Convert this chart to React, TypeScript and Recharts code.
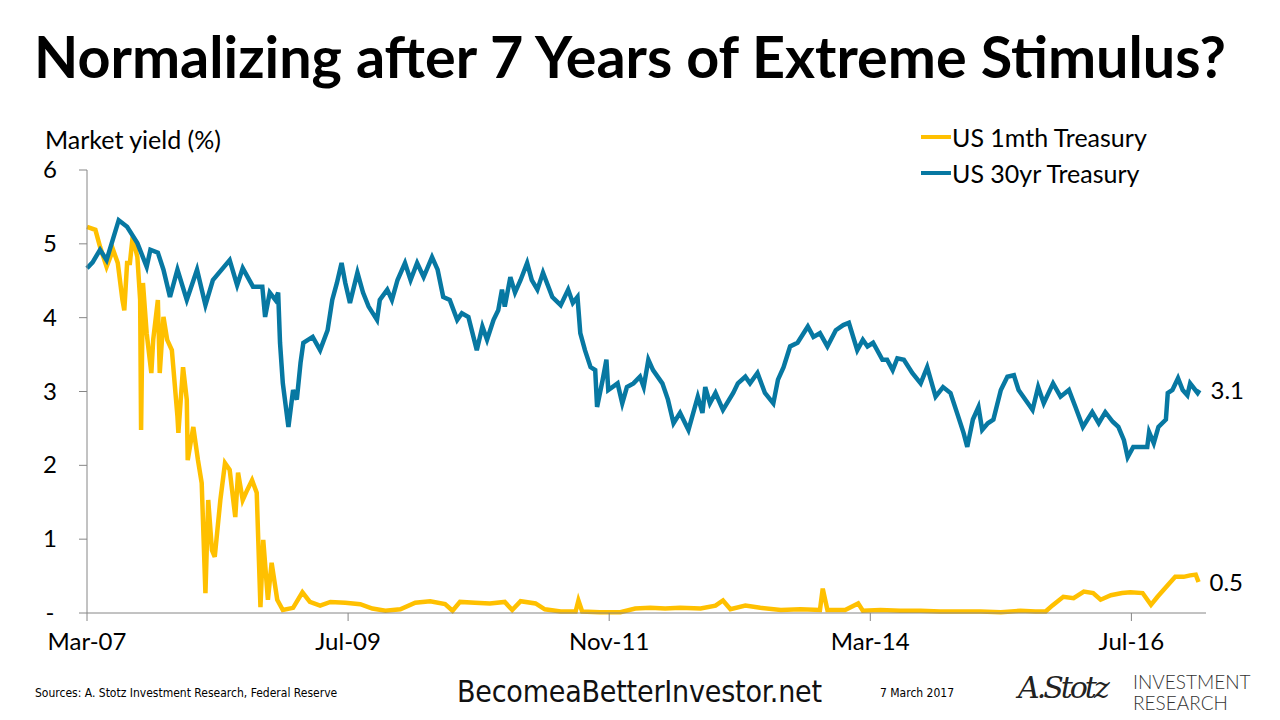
import React from "react"
import { LineChart, Line, XAxis, YAxis } from "recharts"

// months since Mar-2007, yield (%)
const treasury30yr: [number, number][] = [
    [0.0, 4.67], [0.6, 4.75], [1.4, 4.92], [2.1, 4.78], [3.4, 5.32], [4.3, 5.23], [5.4, 5.01], [6.4, 4.69],
    [6.8, 4.92], [7.6, 4.88], [8.2, 4.65], [8.9, 4.28], [9.7, 4.65], [10.7, 4.24], [11.8, 4.65], [12.7, 4.17],
    [13.5, 4.51], [15.3, 4.78], [16.1, 4.44], [16.7, 4.67], [17.8, 4.42], [18.8, 4.42], [19.1, 4.01], [19.6, 4.34],
    [20.2, 4.24], [20.5, 4.34], [20.7, 3.66], [21.0, 3.11], [21.6, 2.52], [22.1, 3.02], [22.5, 2.89], [22.9, 3.39],
    [23.2, 3.66], [24.2, 3.74], [25.0, 3.56], [25.8, 3.83], [26.3, 4.24], [26.8, 4.47], [27.3, 4.74], [27.7, 4.47],
    [28.2, 4.2], [29.0, 4.61], [29.6, 4.34], [30.2, 4.15], [31.1, 3.97], [31.4, 4.24], [32.2, 4.38], [32.7, 4.24],
    [33.3, 4.51], [34.1, 4.74], [34.7, 4.51], [35.4, 4.74], [36.1, 4.55], [37.0, 4.82], [37.6, 4.65], [38.2, 4.28],
    [38.9, 4.24], [39.7, 3.97], [40.2, 4.06], [40.9, 4.01], [41.8, 3.56], [42.4, 3.88], [42.9, 3.7], [43.6, 3.97],
    [44.1, 4.1], [44.5, 4.38], [44.8, 4.15], [45.4, 4.55], [45.9, 4.34], [46.5, 4.51], [47.2, 4.74], [47.7, 4.51],
    [48.3, 4.38], [48.9, 4.61], [49.9, 4.28], [50.8, 4.17], [51.6, 4.38], [52.1, 4.2], [52.6, 4.28], [52.9, 3.79],
    [53.4, 3.56], [54.0, 3.33], [54.5, 3.29], [54.7, 2.79], [55.3, 3.16], [55.7, 3.43], [55.9, 3.02], [56.9, 3.11],
    [57.4, 2.84], [57.9, 3.06], [58.6, 3.11], [59.3, 3.2], [59.7, 3.06], [60.2, 3.43], [60.7, 3.29], [61.7, 3.11],
    [62.3, 2.89], [62.9, 2.57], [63.6, 2.71], [64.5, 2.48], [65.5, 2.93], [66.0, 2.71], [66.3, 3.06], [66.8, 2.84],
    [67.4, 2.98], [68.2, 2.75], [69.3, 2.98], [69.8, 3.11], [70.6, 3.2], [71.1, 3.11], [71.9, 3.25], [72.7, 2.98],
    [73.6, 2.84], [74.1, 3.16], [74.7, 3.33], [75.4, 3.61], [76.2, 3.66], [77.3, 3.88], [77.9, 3.74], [78.6, 3.79],
    [79.4, 3.61], [80.3, 3.83], [81.1, 3.9], [81.7, 3.93], [82.6, 3.56], [83.2, 3.7], [83.7, 3.61], [84.3, 3.66],
    [85.3, 3.43], [85.8, 3.43], [86.4, 3.29], [86.9, 3.45], [87.6, 3.43], [88.5, 3.25], [89.4, 3.11], [90.1, 3.33],
    [91.0, 2.93], [91.8, 3.06], [92.6, 2.98], [93.3, 2.71], [94.0, 2.44], [94.4, 2.25], [95.0, 2.62], [95.6, 2.79],
    [96.0, 2.48], [96.6, 2.57], [97.2, 2.62], [98.0, 3.02], [98.7, 3.2], [99.4, 3.22], [99.9, 3.02], [100.9, 2.84],
    [101.4, 2.75], [102.0, 3.06], [102.6, 2.84], [103.6, 3.11], [104.4, 2.93], [105.3, 3.02], [106.0, 2.79], [106.8, 2.52],
    [107.8, 2.72], [108.5, 2.57], [109.2, 2.72], [110.0, 2.59], [110.6, 2.52], [111.2, 2.34], [111.6, 2.11], [112.2, 2.25],
    [113.0, 2.25], [113.7, 2.25], [113.9, 2.45], [114.4, 2.3], [114.9, 2.52], [115.7, 2.62], [115.9, 2.98], [116.4, 3.02],
    [117.0, 3.18], [117.5, 3.02], [118.0, 2.95], [118.3, 3.11], [119.1, 2.98], [119.3, 3.02],
]

const treasury1mth: [number, number][] = [
    [0.0, 5.23], [0.9, 5.19], [1.4, 4.96], [2.1, 4.69], [2.8, 4.92], [3.3, 4.74], [3.8, 4.24], [4.0, 4.1],
    [4.3, 4.74], [4.6, 4.74], [4.9, 5.1], [5.4, 4.82], [5.7, 4.24], [5.8, 2.48], [6.0, 4.47], [6.4, 3.79],
    [6.9, 3.25], [7.1, 3.7], [7.6, 4.24], [7.8, 3.25], [8.2, 4.01], [8.6, 3.7], [9.1, 3.56], [9.7, 2.66],
    [9.8, 2.44], [10.3, 3.33], [10.7, 2.89], [10.8, 2.07], [11.4, 2.52], [11.9, 2.07], [12.3, 1.76], [12.7, 0.27],
    [13.0, 1.53], [13.4, 0.85], [13.7, 0.76], [14.3, 1.53], [14.8, 2.03], [15.3, 1.94], [15.9, 1.3], [16.2, 1.9],
    [16.7, 1.53], [17.2, 1.67], [17.7, 1.8], [18.2, 1.63], [18.6, 0.08], [18.9, 0.99], [19.4, 0.18], [19.8, 0.68],
    [20.4, 0.18], [21.0, 0.04], [22.1, 0.07], [23.1, 0.28], [23.9, 0.15], [25.0, 0.1], [26.1, 0.15], [27.7, 0.14],
    [29.3, 0.12], [30.6, 0.06], [32.0, 0.03], [33.6, 0.05], [35.2, 0.14], [36.8, 0.16], [38.4, 0.12], [39.2, 0.03],
    [40.0, 0.15], [41.6, 0.14], [43.2, 0.13], [44.8, 0.15], [45.6, 0.04], [46.5, 0.16], [48.1, 0.13], [49.1, 0.05],
    [50.8, 0.02], [52.4, 0.02], [52.7, 0.17], [53.1, 0.02], [55.0, 0.01], [57.2, 0.01], [58.8, 0.06], [60.4, 0.07],
    [62.0, 0.06], [63.6, 0.07], [65.8, 0.06], [67.4, 0.1], [68.2, 0.17], [69.0, 0.05], [70.6, 0.1], [72.2, 0.07],
    [74.4, 0.04], [76.5, 0.05], [78.6, 0.04], [78.9, 0.33], [79.4, 0.04], [81.3, 0.04], [82.7, 0.13], [83.2, 0.03],
    [85.1, 0.04], [87.2, 0.03], [89.4, 0.03], [91.5, 0.02], [93.7, 0.02], [95.8, 0.02], [98.0, 0.01], [100.1, 0.03],
    [101.7, 0.02], [102.8, 0.02], [103.5, 0.1], [104.7, 0.22], [105.8, 0.2], [106.9, 0.29], [107.9, 0.27], [108.7, 0.18],
    [109.8, 0.24], [111.0, 0.27], [111.9, 0.28], [113.2, 0.27], [114.1, 0.11], [114.8, 0.22], [115.7, 0.35], [116.7, 0.49],
    [117.6, 0.49], [118.3, 0.51], [118.9, 0.52], [119.2, 0.42],
]

const xTicks = [0, 28, 56, 84, 112]
const xTickLabels = ["Mar-07", "Jul-09", "Nov-11", "Mar-14", "Jul-16"]
const yTicks = [0, 1, 2, 3, 4, 5, 6]
const seriesNames = ["US 1mth Treasury", "US 30yr Treasury"]
const endLabels = ["0.5", "3.1"]

const YELLOW = "#FFC000"
const BLUE = "#0778A2"
const AXIS = "#868686"
const FONT = "Lato, 'Open Sans', sans-serif"
const NARROW = "'Liberation Sans Narrow', 'DejaVu Sans Condensed', sans-serif"

const toRows = (pts: [number, number][]) => pts.map(([m, v]) => ({ m, v }))
const data1m = toRows(treasury1mth)
const data30 = toRows(treasury30yr)

const endLabel = (len: number, text: string) => (props: any) => {
    if (props.index !== len - 1) return null
    return (
        <text x={props.x + 11} y={props.y} dy={9} fontSize={24} fill="#000" fontFamily={FONT}>
            {text}
        </text>
    )
}

const YTick = (props: any) => {
    const { x, y, payload } = props
    return (
        <text x={x - 27} y={y} dy={8} textAnchor="middle" fontSize={24} fill="#000" fontFamily={FONT}>
            {payload.value === 0 ? "-" : payload.value}
        </text>
    )
}

export default function App() {
    return (
        <div style={{ position: "absolute", left: 0, top: 0, width: 1280, height: 720, background: "#fff", fontFamily: FONT, overflow: "hidden" }}>
            <div style={{ position: "absolute", left: 0, top: 21, width: 1260, textAlign: "center", fontSize: 57.5, fontWeight: 700, color: "#000", lineHeight: "70px" }}>
                Normalizing after 7 Years of Extreme Stimulus?
            </div>
            <div style={{ position: "absolute", left: 45, top: 124, fontSize: 25, color: "#000" }}>Market yield (%)</div>

            <div style={{ position: "absolute", left: 921, top: 119, fontSize: 25, color: "#000", lineHeight: "36px" }}>
                {[YELLOW, BLUE].map((c, i) => (
                    <div key={i} style={{ display: "flex", alignItems: "center" }}>
                        <span style={{ display: "inline-block", width: 30, height: 4, background: c, marginRight: 1 }} />
                        {seriesNames[i]}
                    </div>
                ))}
            </div>

            <div style={{ position: "absolute", left: 0, top: 0 }}>
                <LineChart width={1280} height={720} margin={{ top: 170, right: 74, left: 0, bottom: 57 }}>
                    <XAxis
                        type="number"
                        dataKey="m"
                        domain={[0, 120]}
                        ticks={xTicks}
                        tickFormatter={(v) => xTickLabels[xTicks.indexOf(v)]}
                        stroke={AXIS}
                        tickSize={8}
                        tickMargin={12}
                        height={50}
                        tick={{ fill: "#000", fontSize: 24, fontFamily: FONT }}
                        allowDuplicatedCategory={false}
                    />
                    <YAxis
                        type="number"
                        domain={[0, 6]}
                        ticks={yTicks}
                        width={87}
                        stroke={AXIS}
                        tickSize={8}
                        tick={<YTick />}
                    />
                    <Line data={data1m} dataKey="v" name={seriesNames[0]} stroke={YELLOW} strokeWidth={4.5} dot={false} isAnimationActive={false} label={endLabel(data1m.length, endLabels[0])} />
                    <Line data={data30} dataKey="v" name={seriesNames[1]} stroke={BLUE} strokeWidth={4.5} dot={false} isAnimationActive={false} label={endLabel(data30.length, endLabels[1])} />
                </LineChart>
            </div>

            <div style={{ position: "absolute", left: 35, top: 686, fontSize: 12, color: "#000", fontFamily: NARROW }}>
                Sources: A. Stotz Investment Research, Federal Reserve
            </div>
            <div style={{ position: "absolute", left: 457, top: 674, fontSize: 30, color: "#111", fontFamily: NARROW, letterSpacing: -0.2 }}>
                BecomeaBetterInvestor.net
            </div>
            <div style={{ position: "absolute", left: 880, top: 686, fontSize: 12, color: "#000", fontFamily: NARROW }}>
                7 March 2017
            </div>
            <div style={{ position: "absolute", left: 1018, top: 670, fontSize: 30, fontStyle: "italic", fontFamily: "'DejaVu Serif', serif", color: "#222", letterSpacing: -3 }}>
                A.Stotz
            </div>
            <div style={{ position: "absolute", left: 1133, top: 671, fontSize: 19, lineHeight: "21px", color: "#333", fontWeight: 300 }}>
                INVESTMENT
                <br />
                RESEARCH
            </div>
        </div>
    )
}
